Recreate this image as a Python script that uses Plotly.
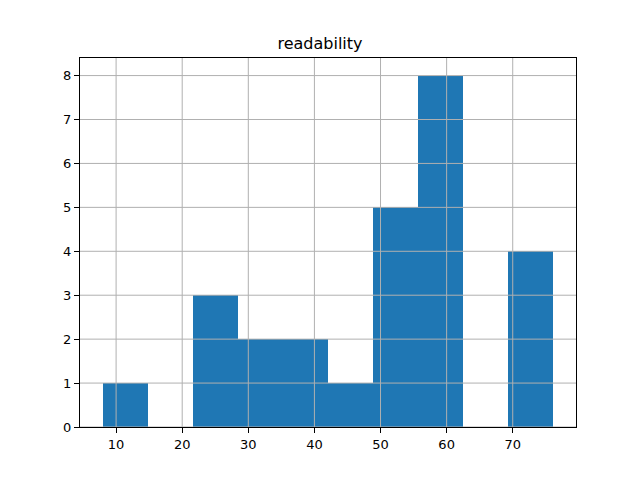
import plotly.graph_objects as go

bin_edges = [7.95, 14.77, 21.6, 28.42, 35.24, 42.06, 48.88, 55.7, 62.52, 69.34, 76.16]
counts = [1, 0, 3, 2, 2, 1, 5, 8, 0, 4]
x_ticks = [10, 20, 30, 40, 50, 60, 70]
y_ticks = [0, 1, 2, 3, 4, 5, 6, 7, 8]
title = "readability"

centers = [(a + b) / 2 for a, b in zip(bin_edges[:-1], bin_edges[1:])]
widths = [b - a for a, b in zip(bin_edges[:-1], bin_edges[1:])]

span = bin_edges[-1] - bin_edges[0]
xr = [bin_edges[0] - 0.05 * span, bin_edges[-1] + 0.05 * span]
yr = [0, max(counts) * 1.05]

fig = go.Figure(go.Bar(x=centers, y=counts, width=widths,
                       marker=dict(color="#1f77b4", line=dict(width=0))))

grid_color = "#b0b0b0"
for t in x_ticks:
    fig.add_shape(type="line", xref="x", yref="paper", x0=t, x1=t, y0=0, y1=1,
                  line=dict(color=grid_color, width=1), layer="above")
for t in y_ticks:
    fig.add_shape(type="line", xref="paper", yref="y", x0=0, x1=1, y0=t, y1=t,
                  line=dict(color=grid_color, width=1), layer="above")

axis_common = dict(showline=True, linecolor="black", linewidth=1, mirror=True,
                   ticks="outside", ticklen=5, tickwidth=1, tickcolor="black",
                   showgrid=False, zeroline=False, layer="above traces",
                   tickfont=dict(family="DejaVu Sans", size=13, color="black"))

fig.update_layout(
    width=640, height=480,
    margin=dict(l=80, r=64, t=58, b=53),
    paper_bgcolor="white", plot_bgcolor="white",
    title=dict(text=title, x=0.5, xanchor="center", y=(480 - 43) / 480, yanchor="middle",
               yref="container", font=dict(family="DejaVu Sans", size=16, color="black")),
    xaxis=dict(range=xr, tickvals=x_ticks, **axis_common),
    yaxis=dict(range=yr, tickvals=y_ticks, **axis_common),
    bargap=0, showlegend=False, hovermode=False,
)

fig.write_html("out.html", config={"displayModeBar": False, "staticPlot": True},
               post_script="document.body.style.margin='0';")
